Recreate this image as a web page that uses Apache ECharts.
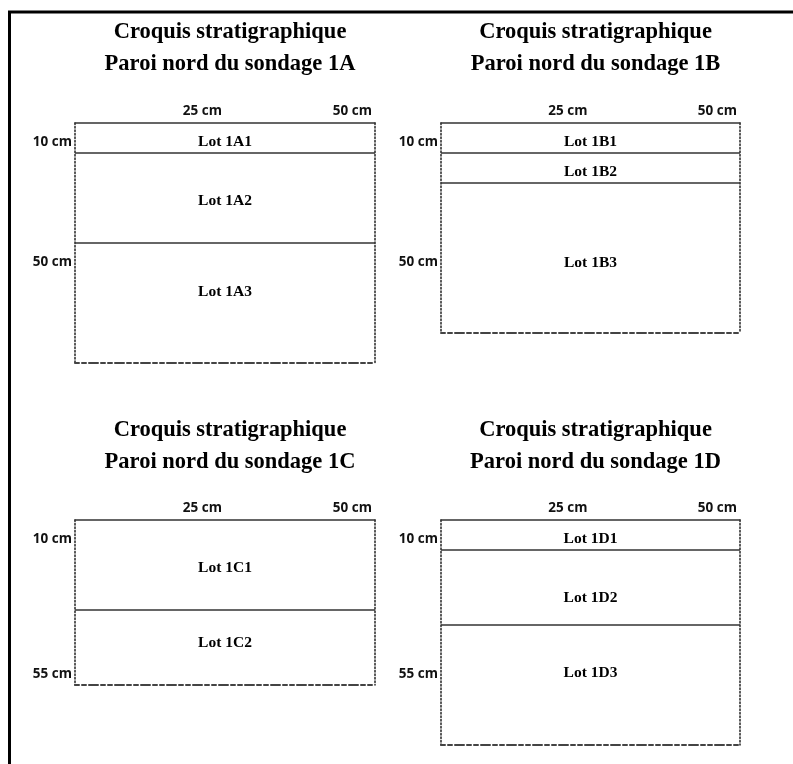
<!DOCTYPE html>
<html>
<head>
<meta charset="utf-8">
<script src="https://cdn.jsdelivr.net/npm/echarts@6/dist/echarts.min.js"></script>
<style>
  html, body { margin: 0; padding: 0; background: #fff; }
  #chart { width: 793px; height: 764px; }
</style>
</head>
<body>
<div id="chart"></div>
<script>
// sondages (one panel each)
const panelIds = ['1A', '1B', '1C', '1D']
const depthTotals = [80, 70, 55, 75]
const boundaries = [[10, 40], [10, 20], [30], [10, 35]]
const lotNames = [
  ['Lot 1A1', 'Lot 1A2', 'Lot 1A3'],
  ['Lot 1B1', 'Lot 1B2', 'Lot 1B3'],
  ['Lot 1C1', 'Lot 1C2'],
  ['Lot 1D1', 'Lot 1D2', 'Lot 1D3']
]
const lotLabelDepths = [[6.3, 26, 56.3], [6.3, 16.3, 46.7], [16, 41], [6.3, 26, 51]]
const depthTicks = [[10, 50], [10, 50], [10, 55], [10, 55]]
const widthTicks = [25, 50]
const widthTotal = 50

// layout of the four sketches
const boxes = [
  { left: 75, top: 123, width: 300, titleTop: 11 },
  { left: 441, top: 123, width: 299, titleTop: 11 },
  { left: 75, top: 520, width: 300, titleTop: 409 },
  { left: 441, top: 520, width: 299, titleTop: 409 }
]
const pxPerCm = 3
const lineColor = '#333'
const serif = '"Liberation Serif", "DejaVu Serif", serif'
const sans = '"Open Sans", "Noto Sans", sans-serif'

const grid = []
const xAxis = []
const yAxis = []
const series = []
const title = []

panelIds.forEach((id, i) => {
  const b = boxes[i]
  grid.push({ left: b.left, top: b.top, width: b.width, height: depthTotals[i] * pxPerCm })

  title.push({
    text: 'Croquis stratigraphique\nParoi nord du sondage ' + id,
    left: b.left + b.width / 2,
    top: b.titleTop,
    textAlign: 'center',
    textStyle: { fontFamily: serif, fontWeight: 'bold', fontSize: 22.5, lineHeight: 32, color: '#000' }
  })

  // top (solid, with width labels) and bottom (dash-dot) edges
  xAxis.push({
    gridIndex: i, type: 'value', position: 'top', min: 0, max: widthTotal,
    axisLine: { show: true, onZero: false, lineStyle: { color: lineColor, width: 1.5 } },
    axisTick: { show: false },
    splitLine: { show: false },
    axisLabel: {
      customValues: widthTicks, align: 'right', margin: 5, padding: [0, 3, 0, 0],
      formatter: v => v + ' cm',
      fontFamily: sans, fontWeight: 'bold', fontSize: 13.5, color: '#111'
    }
  })
  xAxis.push({
    gridIndex: i, type: 'value', position: 'bottom', min: 0, max: widthTotal,
    axisLine: { show: true, onZero: false, lineStyle: { color: '#444', width: 2, type: [4, 3, 4, 3, 9, 3] } },
    axisTick: { show: false }, axisLabel: { show: false }, splitLine: { show: false }
  })

  // left (dotted, with depth labels) and right (dotted) edges
  yAxis.push({
    gridIndex: i, type: 'value', position: 'left', inverse: true, min: 0, max: depthTotals[i],
    axisLine: { show: true, onZero: false, lineStyle: { color: '#222', width: 1.5, type: [1.5, 2] } },
    axisTick: { show: false },
    splitLine: { show: false },
    axisLabel: {
      customValues: depthTicks[i], margin: 3, verticalAlign: 'bottom', padding: [0, 0, 4, 0],
      formatter: v => v + ' cm',
      fontFamily: sans, fontWeight: 'bold', fontSize: 13.5, color: '#111'
    }
  })
  yAxis.push({
    gridIndex: i, type: 'value', position: 'right', inverse: true, min: 0, max: depthTotals[i],
    axisLine: { show: true, onZero: false, lineStyle: { color: '#222', width: 1.5, type: [1.5, 2] } },
    axisTick: { show: false }, axisLabel: { show: false }, splitLine: { show: false }
  })

  // layer boundaries
  boundaries[i].forEach(d => {
    series.push({
      type: 'line', xAxisIndex: 2 * i, yAxisIndex: 2 * i, silent: true,
      symbol: 'none', animation: false,
      lineStyle: { color: lineColor, width: 1.5 },
      data: [[0, d], [widthTotal, d]]
    })
  })

  // lot names
  series.push({
    type: 'scatter', xAxisIndex: 2 * i, yAxisIndex: 2 * i, silent: true,
    symbolSize: 0, animation: false,
    data: lotNames[i].map((n, k) => ({ name: n, value: [widthTotal / 2, lotLabelDepths[i][k]] })),
    label: {
      show: true, position: 'inside', formatter: '{b}',
      fontFamily: serif, fontWeight: 'bold', fontSize: 15.5, color: '#000', opacity: 1
    }
  })
})

const chart = echarts.init(document.getElementById('chart'))
chart.setOption({
  backgroundColor: '#fff',
  animation: false,
  title,
  grid,
  xAxis,
  yAxis,
  series,
  graphic: [
    { type: 'line', shape: { x1: 8, y1: 12, x2: 793, y2: 12 }, style: { stroke: '#000', lineWidth: 3 } },
    { type: 'line', shape: { x1: 9.5, y1: 11, x2: 9.5, y2: 764 }, style: { stroke: '#000', lineWidth: 3 } }
  ]
})
window.addEventListener('resize', () => chart.resize())
</script>
</body>
</html>
